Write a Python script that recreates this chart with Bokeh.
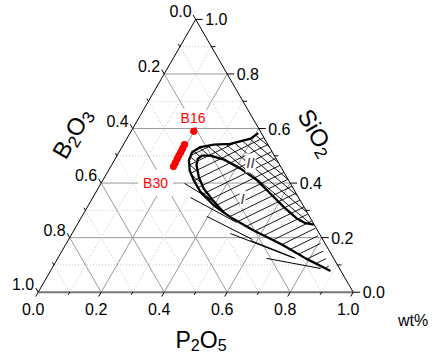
import math
from bokeh.plotting import figure
from bokeh.models import Range1d, Label
from bokeh.embed import file_html
from bokeh.resources import INLINE
from bokeh.core.properties import value

# ---------------- data (ternary, mass fractions) ----------------
tick_values = [0.0, 0.2, 0.4, 0.6, 0.8, 1.0]
tick_labels = ["0.0", "0.2", "0.4", "0.6", "0.8", "1.0"]

# red sample points (P2O5, B2O3); SiO2 = 1 - P2O5 - B2O3
sample_p2o5 = [0.199, 0.194, 0.195, 0.196, 0.196, 0.197, 0.198, 0.199]
sample_b2o3 = [0.211, 0.265, 0.278, 0.290, 0.303, 0.315, 0.328, 0.340]
sample_text = ["B16", "", "", "", "", "", "", "B30"]

# outer immiscibility boundary (P2O5, SiO2)
outer_p2o5 = [0.407, 0.393, 0.338, 0.287, 0.249, 0.232, 0.237, 0.258, 0.289, 0.332,
              0.399, 0.473, 0.571, 0.688, 0.787, 0.889]
outer_sio2 = [0.583, 0.563, 0.544, 0.541, 0.532, 0.513, 0.483, 0.446, 0.410, 0.367,
              0.318, 0.275, 0.226, 0.174, 0.124, 0.078]

# inner boundary (region I / II)
inner_p2o5 = [0.751, 0.722, 0.688, 0.624, 0.557, 0.490, 0.416, 0.347, 0.296, 0.270,
              0.262, 0.270, 0.299, 0.336, 0.391, 0.437]
inner_sio2 = [0.248, 0.253, 0.269, 0.312, 0.361, 0.410, 0.453, 0.486, 0.501, 0.501,
              0.489, 0.465, 0.422, 0.379, 0.333, 0.297]

# thin tie lines below the boundary
tie_p2o5_a = [0.265, 0.310, 0.396, 0.503, 0.579, 0.663]
tie_sio2_a = [0.399, 0.347, 0.278, 0.215, 0.190, 0.124]
tie_p2o5_b = [0.398, 0.502, 0.584, 0.744, 0.755, 0.853]
tie_sio2_b = [0.329, 0.256, 0.193, 0.127, 0.124, 0.087]

region_labels = ["II", "I"]
region_p2o5 = [0.437, 0.477]
region_sio2 = [0.474, 0.344]

# ---------------- geometry ----------------
R3 = math.sqrt(3.0)
X0, Y0 = 37.7, 291.7      # px of the B2O3 = 1 corner
SIDE = 315.0              # px per triangle side
W, H = 432, 354
FONT_NAME = "Liberation Sans"
FONT = value(FONT_NAME)


def tern(pp, ss):
    return pp + ss / 2.0, ss * R3 / 2.0


def page_to_data(X, Y):
    return (X - X0) / SIDE, (Y0 - Y) / SIDE


def off(u, v, dx, dy):
    return u + dx / SIDE, v - dy / SIDE


p = figure(width=W, height=H, output_backend="svg", toolbar_location=None,
           x_range=Range1d((0 - X0) / SIDE, (W - X0) / SIDE),
           y_range=Range1d((Y0 - H) / SIDE, (Y0 - 0) / SIDE),
           min_border=0)
p.axis.visible = False
p.grid.visible = False
p.outline_line_color = None
p.background_fill_color = "white"

# ---------------- grid ----------------
for k in range(1, 10):
    t = k / 10.0
    segs = [(tern(0, t), tern(1 - t, t)),
            (tern(t, 0), tern(t, 1 - t)),
            (tern(1 - t, 0), tern(0, 1 - t))]
    xs = [[a[0], b[0]] for a, b in segs]
    ys = [[a[1], b[1]] for a, b in segs]
    if k % 2 == 0:
        p.multi_line(xs, ys, line_color="#9a9a9a", line_width=1)
    else:
        p.multi_line(xs, ys, line_color="#c4c4c4", line_width=1, line_dash="1 2")

# ---------------- triangle edges ----------------
A, B, C = tern(0, 0), tern(1, 0), tern(0, 1)
p.line([A[0], B[0]], [A[1], B[1]], line_color="#777777", line_width=2)
p.line([B[0], C[0], A[0]], [B[1], C[1], A[1]], line_color="black", line_width=1)

# ---------------- ticks ----------------
txs, tys = [], []
for k in range(0, 11):
    t = k / 10.0
    L = 5 if k % 2 == 0 else 3
    u, v = tern(t, 0)
    e = off(u, v, -0.5 * L, 0.866 * L)
    txs.append([u, e[0]]); tys.append([v, e[1]])
    u, v = tern(1 - t, t)
    Lr = 7 if k % 2 == 0 else 4
    e = off(u, v, Lr, 0)
    txs.append([u, e[0]]); tys.append([v, e[1]])
    u, v = tern(0, 1 - t)
    e = off(u, v, -0.5 * L, -0.866 * L)
    txs.append([u, e[0]]); tys.append([v, e[1]])
p.multi_line(txs, tys, line_color="black", line_width=1)

# ---------------- tick labels ----------------
bx, by, rx, ry, lx, ly = [], [], [], [], [], []
for t in tick_values:
    u, v = tern(t, 0)
    q = off(u, v, -5, 17); bx.append(q[0]); by.append(q[1])
    u, v = tern(1 - t, t)
    q = off(u, v, 9.5, 0); rx.append(q[0]); ry.append(q[1])
    u, v = tern(0, 1 - t)
    q = off(u, v, -4, -8); lx.append(q[0]); ly.append(q[1])
common = dict(text_font=FONT, text_font_size="16px", text_color="black")
p.text(bx, by, text=tick_labels, text_align="center", text_baseline="middle", **common)
p.text(rx, ry, text=tick_labels, text_align="left", text_baseline="middle", **common)
p.text(lx, ly, text=tick_labels, text_align="right", text_baseline="middle", **common)


# ---------------- axis titles ----------------
def draw_pieces(X, Y, ang_deg, pieces):
    th = math.radians(ang_deg)
    d = (math.cos(th), -math.sin(th))
    n = (math.sin(th), math.cos(th))
    pos = 0.0
    for txt, size, shift, em in pieces:
        x = X + d[0] * pos + n[0] * shift
        y = Y + d[1] * pos + n[1] * shift
        u, v = page_to_data(x, y)
        p.text([u], [v], text=[txt], angle=th, text_font=FONT,
               text_font_size=f"{size}px", text_align="left",
               text_baseline="alphabetic", text_color="black")
        pos += em * size


draw_pieces(175, 339, 0, [("P", 23, 0, 0.667), ("2", 16, 5, 0.556),
                          ("O", 23, 0, 0.778), ("5", 16, 5, 0.556)])
draw_pieces(303.5, 110.5, -60, [("SiO", 24, 0, 1.667), ("2", 17, 6, 0.556)])
draw_pieces(58, 156, 60, [("B", 24, 0, 0.667), ("2", 17, 6, 0.556),
                          ("O", 24, 0, 0.778), ("3", 17, 6, 0.556)])
wu, wv = page_to_data(397.5, 320)
p.text([wu], [wv], text=["wt%"], text_align="left", text_baseline="middle", **common)


# ---------------- hatching ----------------
def hatch(poly, angle_deg, spacing_px):
    th = math.radians(angle_deg)
    d = (math.cos(th), math.sin(th))
    n = (-math.sin(th), math.cos(th))
    proj = [n[0] * a + n[1] * b for a, b in poly]
    step = spacing_px / SIDE
    c = math.ceil(min(proj) / step) * step
    xs, ys = [], []
    m = len(poly)
    while c < max(proj):
        ts = []
        for i in range(m):
            a, b = poly[i], poly[(i + 1) % m]
            na = n[0] * a[0] + n[1] * a[1] - c
            nb = n[0] * b[0] + n[1] * b[1] - c
            if (na < 0) != (nb < 0):
                f = na / (na - nb)
                px_ = a[0] + f * (b[0] - a[0]); py_ = a[1] + f * (b[1] - a[1])
                ts.append(d[0] * px_ + d[1] * py_)
        ts.sort()
        for i in range(0, len(ts) - 1, 2):
            xs.append([c * n[0] + ts[i] * d[0], c * n[0] + ts[i + 1] * d[0]])
            ys.append([c * n[1] + ts[i] * d[1], c * n[1] + ts[i + 1] * d[1]])
        c += step
    return xs, ys


outer_xy = [tern(a, b) for a, b in zip(outer_p2o5, outer_sio2)]
inner_xy = [tern(a, b) for a, b in zip(inner_p2o5, inner_sio2)]
edge_top = tern(1 - outer_sio2[0], outer_sio2[0])

poly_all = outer_xy + [inner_xy[0], edge_top]
poly_two = outer_xy[:11] + inner_xy[::-1] + [edge_top]

hx, hy = hatch(poly_all, 26, 8)
p.multi_line(hx, hy, line_color="black", line_width=0.9)
hx, hy = hatch(poly_two, -40, 6.5)
p.multi_line(hx, hy, line_color="black", line_width=0.9)

# tie lines
tx = [[tern(a, b)[0], tern(c, d)[0]] for a, b, c, d in zip(tie_p2o5_a, tie_sio2_a, tie_p2o5_b, tie_sio2_b)]
ty = [[tern(a, b)[1], tern(c, d)[1]] for a, b, c, d in zip(tie_p2o5_a, tie_sio2_a, tie_p2o5_b, tie_sio2_b)]
p.multi_line(tx, ty, line_color="black", line_width=1)

# boundaries
p.line([q[0] for q in outer_xy], [q[1] for q in outer_xy], line_color="black",
       line_width=2.3, line_join="round")
p.line([q[0] for q in inner_xy], [q[1] for q in inner_xy], line_color="black",
       line_width=2.3, line_join="round")

# region labels
for txt, a, b in zip(region_labels, region_p2o5, region_sio2):
    u, v = tern(a, b)
    p.add_layout(Label(x=u, y=v, text=txt, text_font=FONT_NAME, text_font_size="15px",
                       text_font_style="italic", text_align="center",
                       text_baseline="middle", background_fill_color="white",
                       padding=1))

# ---------------- samples ----------------
sx, sy = [], []
for a, b in zip(sample_p2o5, sample_b2o3):
    u, v = tern(a, 1 - a - b)
    sx.append(u); sy.append(v)
p.scatter(sx, sy, size=6.5, marker="circle", fill_color="red", line_color="red",
          level="overlay")

label_offsets = {"B16": (-0.8, -13.5), "B30": (-18, 16.5)}
label_pad = {"B16": 1, "B30": 5}
for txt, u, v in zip(sample_text, sx, sy):
    if not txt:
        continue
    dx, dy = label_offsets[txt]
    q = off(u, v, dx, dy)
    p.add_layout(Label(x=q[0], y=q[1], text=txt, text_font=FONT_NAME, text_font_size="14px",
                       text_color="red", text_align="center", text_baseline="middle",
                       background_fill_color="white", padding=label_pad[txt]))

open("out.html", "w").write(file_html(p, INLINE))
